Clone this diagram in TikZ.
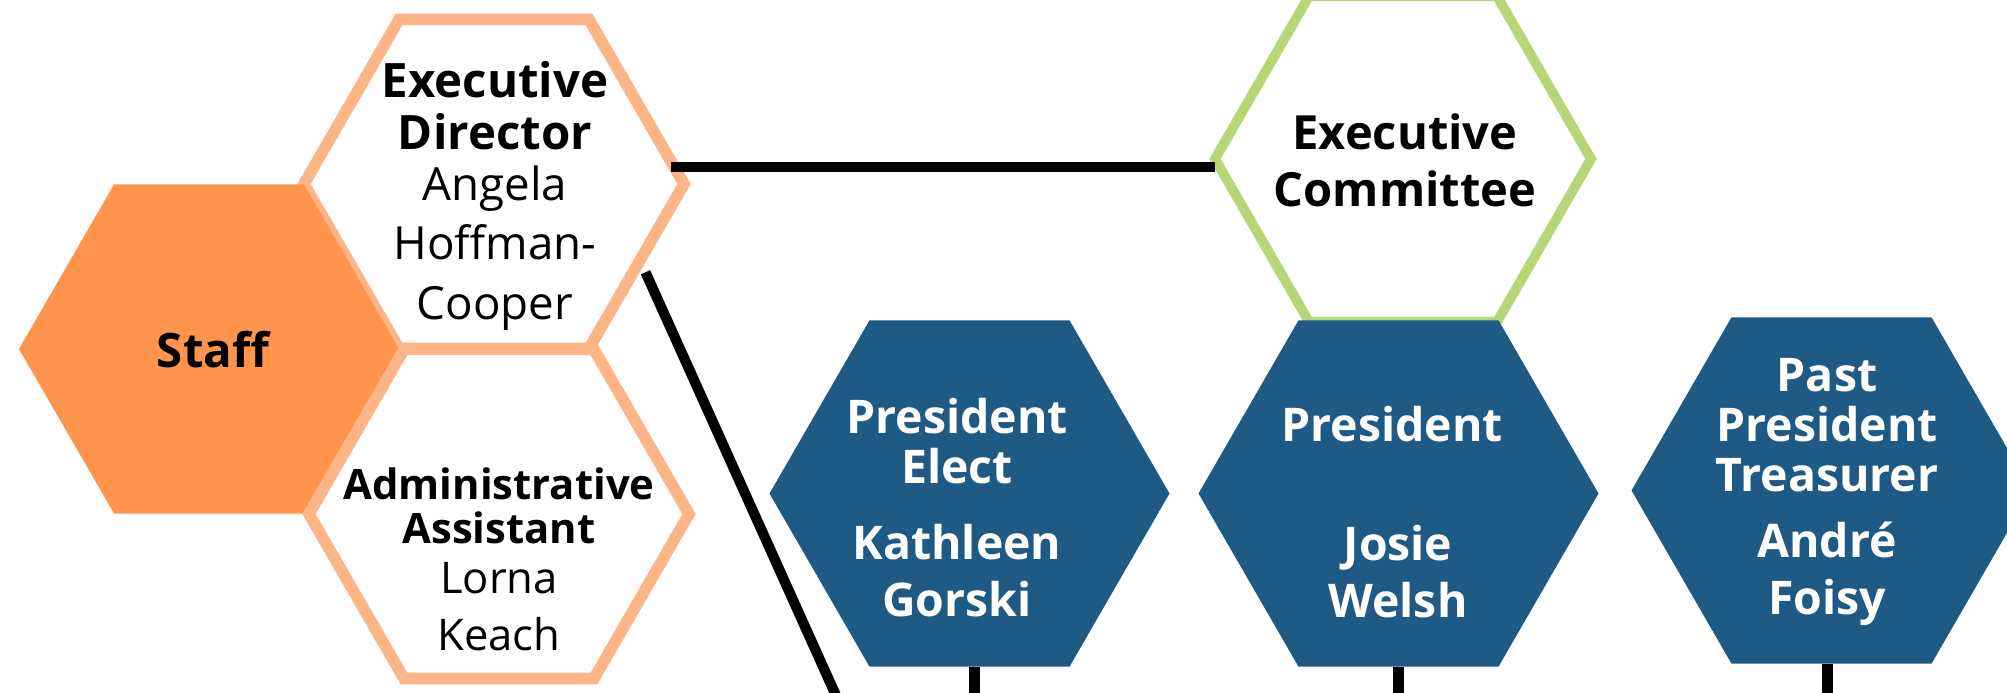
\documentclass[tikz,border=0pt]{standalone}
\usepackage{fontspec}
\setmainfont{Open Sans}
\usetikzlibrary{shapes.geometric}
\definecolor{hexorange}{HTML}{FF944D}
\definecolor{hexpale}{HTML}{FDB486}
\definecolor{hexgreen}{HTML}{B5D777}
\definecolor{hexblue}{HTML}{1F5A85}
\begin{document}
\begin{tikzpicture}[x=0.1mm,y=-0.1mm,
	hex/.style={regular polygon,regular polygon sides=6,inner sep=0pt,outer sep=0pt,minimum size=38mm},
	staffhex/.style={hex,fill=hexorange},
	palehex/.style={hex,draw=hexpale,line width=3.3pt},
	greenhex/.style={hex,draw=hexgreen,line width=2.8pt,minimum size=37.6mm},
	bluehex/.style={hex,fill=hexblue,minimum size=40mm},
	ttl/.style={align=center,font=\bfseries\fontsize{13.5}{14.8}\selectfont},
	who/.style={align=center,font=\fontsize{13}{16.9}\selectfont},
	wttl/.style={ttl,text=white,font=\bfseries\fontsize{13.2}{14.2}\selectfont},
	wwho/.style={wttl,font=\bfseries\fontsize{13.2}{16.2}\selectfont},
	link/.style={line width=2.9pt}]
	\useasboundingbox (0,0) rectangle (2007,693);
	\clip (0,0) rectangle (2007,693);
	% staff
	\node[palehex] (ed) at (494,184) {};
	\node[staffhex] (staff) at (209,349) {};
	\node[palehex] (admin) at (499,514) {};
	\node[ttl] (staff-txt) at (213,350) {Staff};
	\node[ttl] (ed-ttl) at (495,106) {Executive\\Director};
	\node[who] (ed-who) at (495,248) {Angela\\Hoffman-\\Cooper};
	\node[ttl,font=\bfseries\fontsize{11.9}{12.7}\selectfont] (admin-ttl) at (499,506) {Administrative\\Assistant};
	\node[who,font=\fontsize{12.4}{16.2}\selectfont] (admin-who) at (499,607) {Lorna\\Keach};
	% board
	\node[greenhex] (ec) at (1403,159) {};
	\node[ttl,font=\bfseries\fontsize{13.4}{16.2}\selectfont] (ec-ttl) at (1405,160) {Executive\\Committee};
	\node[bluehex] (pe) at (969.5,493.5) {};
	\node[bluehex] (pres) at (1398.5,493.5) {};
	\node[bluehex] (past) at (1831.5,490.5) {};
	\node[wttl] (pe-ttl) at (957,441) {President\\Elect};
	\node[wwho] (pe-who) at (957,571) {Kathleen\\Gorski};
	\node[wttl] (pres-ttl) at (1392,424) {President};
	\node[wwho] (pres-who) at (1398,572) {Josie\\Welsh};
	\node[wttl] (past-ttl) at (1827,425) {Past\\President\\Treasurer};
	\node[wwho] (past-who) at (1827,574) {André\\Foisy};
	% links
	\coordinate (ed-out) at ([shift={(-13,-17)}]ed.east);
	\draw[link] (ed-out) -- (ed-out -| ec.west);
	\coordinate (ed-low) at ([shift={(9,6)}]ed.-30);
	\coordinate (ed-down) at (847,720);
	\draw[link] (ed-low) -- (ed-down);
	\foreach \n/\dx in {pe/5,pres/0,past/-4}{
		\coordinate (\n-top) at ([xshift=\dx*0.1mm]\n.south);
		\coordinate (\n-stub) at ([shift={(0,40)}]\n-top);
		\draw[link] (\n-top) -- (\n-stub);
	}
\end{tikzpicture}
\end{document}
